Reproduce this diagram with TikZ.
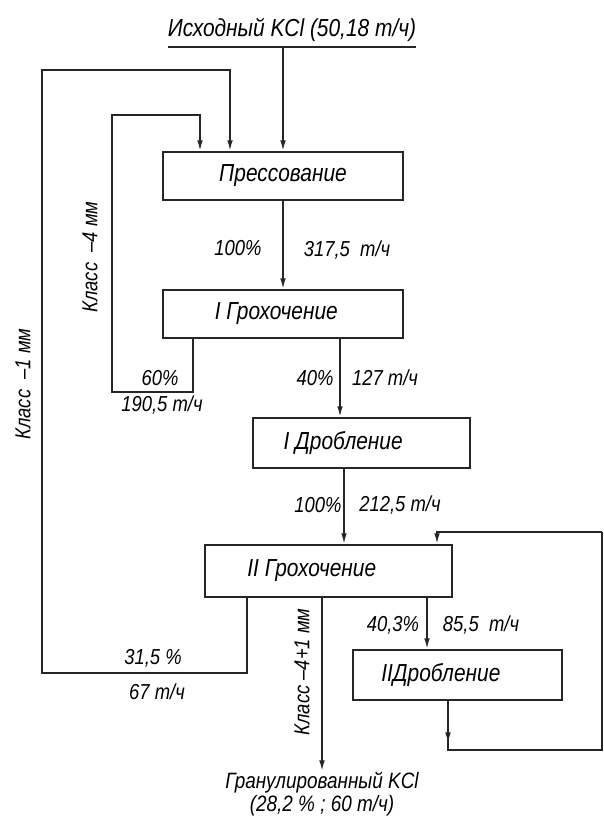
\documentclass[tikz,border=0pt]{standalone}
\usepackage{fontspec}
\setmainfont{Liberation Sans}[FakeStretch=0.85]
\usetikzlibrary{arrows.meta,positioning}
\newcommand{\stagefont}{\fontsize{21}{24}\selectfont\itshape}
\newcommand{\lblfont}{\fontsize{18.5}{20}\selectfont\itshape}
\tikzset{
  stage/.style = {draw=black!85, line width=1.8pt, minimum height=1.44cm,
                  inner sep=0pt, font=\stagefont},
  lbl/.style   = {font=\lblfont, inner sep=1pt},
  flow/.style  = {draw=black!85, line width=1.4pt},
  ar/.style    = {flow, -{Latex[length=3.2mm,width=1.7mm]}},
}

\begin{document}
\begin{tikzpicture}[x=0.03cm, y=-0.03cm]
  \useasboundingbox (0,0) rectangle (603,821);
  % stages
  \node[stage, minimum width=7.2cm] (P) at (283,176) {Прессование};
  \node[stage, minimum width=7.2cm] (G1) at (283,314) {I Грохочение\kern0.4cm};
  \node[stage, minimum width=6.51cm, minimum height=1.5cm] (D1) at (361.5,443) {I Дробление\kern1.1cm};
  \node[stage, minimum width=7.41cm, minimum height=1.56cm] (G2) at (328.5,571) {II Грохочение\kern1cm};
  \node[stage, minimum width=6.27cm, minimum height=1.5cm] (D2) at (457.5,675) {IIДробление\kern1cm};
  % feed and product
  \node[lbl, font=\stagefont, anchor=south, inner xsep=0pt, inner ysep=4.5pt] (src)
    at (292,47) {Исходный KCl (50,18 т/ч)};
  \node[lbl, font=\fontsize{19}{19}\selectfont\itshape, anchor=north, align=center] (prod)
    at (322,771) {Гранулированный KCl\\(28,2 \% ; 60 т/ч)};
  % x of the flow lines
  \coordinate (m1) at (340,0);
  \coordinate (m2) at (193,0);
  \coordinate (m3) at (200,0);
  \coordinate (n1) at (247,0);
  \coordinate (n2) at (230,0);
  \coordinate (m4) at (322,0);
  \coordinate (m5) at (427,0);
  \coordinate (m6) at (448,0);
  \coordinate (m7) at (437,0);
  \coordinate (m8) at (344,0);
  % loop corners
  \coordinate (k1) at (112,392);
  \coordinate (k2) at (112,115);
  \coordinate (o1) at (42,673);
  \coordinate (o2) at (42,70);
  \coordinate (r1) at (602,750);
  \coordinate (r2) at (602,532);

  % main line
  \draw[flow] (src.south west) -- (src.south east);
  \draw[ar] (P.north |- src.south) -- (P.north);
  \draw[ar] (P) -- (G1);
  \draw[ar] (G1.south -| m1) -- (D1.north -| m1);
  \draw[ar] (D1.south -| m8) -- (G2.north -| m8);
  \draw[ar] (G2.south -| m5) -- (D2.north -| m5);
  \draw[ar] (G2.south -| m4) -- (prod.north);
  % recycle loops
  \draw[ar] (G1.south -| m2) |- (k1) -- (k2) -| (P.north -| m3);
  \draw[ar] (G2.south -| n1) |- (o1) -- (o2) -| (P.north -| n2);
  \draw[ar] (D2.south -| m6) -- ++(0,42);
  \draw[flow] (D2.south -| m6) |- (r1) -- (r2);
  \draw[ar] (r2) -| (G2.north -| m7);

  % stream labels
  \node[lbl] (l100a) at (238,248) {100\%};
  \node[lbl] (l317) at (347,250) {317,5\ \ т/ч};
  \node[lbl] (l60) at (160,378) {60\%};
  \node[lbl] (l190) at (162,405) {190,5 т/ч};
  \node[lbl] (l40) at (315,378) {40\%};
  \node[lbl] (l127) at (385,378) {127 т/ч};
  \node[lbl] (l100b) at (318,505) {100\%};
  \node[lbl] (l212) at (400,505) {212,5 т/ч};
  \node[lbl] (l403) at (393,625) {40,3\%};
  \node[lbl] (l855) at (481,625) {85,5\ \ т/ч};
  \node[lbl] (l315) at (153,658) {31,5 \%};
  \node[lbl] (l67) at (157,692) {67 т/ч};
  \node[lbl, rotate=90] (kl4) at (90,257) {Класс \ –4 мм};
  \node[lbl, rotate=90] (kl1) at (23,384) {Класс \ –1 мм};
  \node[lbl, rotate=90] (kl41) at (302,672) {Класс –4+1 мм};
\end{tikzpicture}
\end{document}
